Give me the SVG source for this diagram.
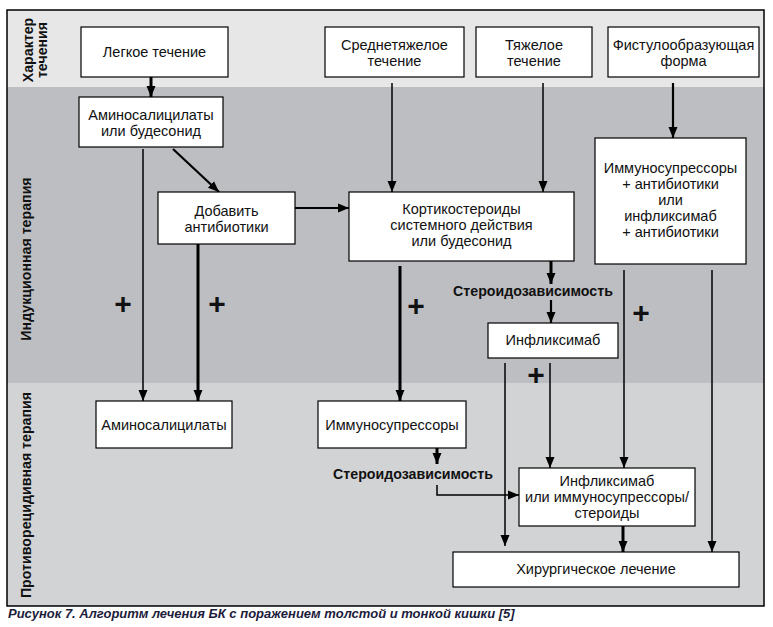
<svg xmlns="http://www.w3.org/2000/svg" width="773" height="627" viewBox="0 0 773 627">
<style>
.box{fill:#fff;stroke:#000;stroke-width:1.2}
.t{font-family:"Liberation Sans",Arial,sans-serif;font-size:14.5px;fill:#111;text-anchor:middle}
.b{font-family:"Liberation Sans",Arial,sans-serif;font-size:14.2px;font-weight:bold;fill:#111;text-anchor:middle}
.l{font-family:"Liberation Sans",Arial,sans-serif;font-size:14.2px;font-weight:bold;fill:#111;text-anchor:middle}
.p{font-family:"Liberation Sans",Arial,sans-serif;font-size:30px;font-weight:bold;fill:#111;text-anchor:middle}
.c{fill:none;stroke:#000}
.w1{stroke-width:1.5}
.w2{stroke-width:2.2}
.w3{stroke-width:3}
</style>
<defs>
<marker id="ah" markerUnits="userSpaceOnUse" markerWidth="12" markerHeight="12" viewBox="0 0 12 12" refX="11" refY="6" orient="auto">
<path d="M0,1.5 L11,6 L0,10.5 Z" fill="#000"/>
</marker>
</defs>
<rect x="0" y="0" width="773" height="627" fill="#fff"/>
<g id="bands">
<rect x="7" y="10" width="757" height="77" fill="#e7e7e8"/>
<rect x="7" y="87" width="757" height="296" fill="#bdbec1"/>
<rect x="7" y="383" width="757" height="223" fill="#d2d3d5"/>
<rect x="7" y="10" width="757" height="596" fill="none" stroke="#000" stroke-width="1.5"/>
</g>
<g id="lane-labels">
<text class="l" transform="translate(33,50) rotate(-90)">Характер</text>
<text class="l" transform="translate(47,50) rotate(-90)">течения</text>
<text class="l" transform="translate(31,259) rotate(-90)">Индукционная терапия</text>
<text class="l" transform="translate(31,495) rotate(-90)">Противорецидивная терапия</text>
</g>
<g id="connectors">
<path class="c w3" d="M151,77 V97" marker-end="url(#ah)"/>
<path class="c w1" d="M392,83 V192" marker-end="url(#ah)"/>
<path class="c w1" d="M543,83 V192" marker-end="url(#ah)"/>
<path class="c w2" d="M673,83 V138" marker-end="url(#ah)"/>
<path class="c w2" d="M173,149 L219,192" marker-end="url(#ah)"/>
<path class="c w1" d="M143,149 V401" marker-end="url(#ah)"/>
<path class="c w3" d="M198,244 V401" marker-end="url(#ah)"/>
<path class="c w2" d="M295,208 H349" marker-end="url(#ah)"/>
<path class="c w3" d="M400,266 V401" marker-end="url(#ah)"/>
<path class="c w3" d="M551,261 V284" marker-end="url(#ah)"/>
<path class="c w2" d="M551,300 V323" marker-end="url(#ah)"/>
<path class="c w1" d="M505,363 V546" marker-end="url(#ah)"/>
<path class="c w1" d="M550,363 V468" marker-end="url(#ah)"/>
<path class="c w1" d="M624,270 V468" marker-end="url(#ah)"/>
<path class="c w1" d="M712,270 V552" marker-end="url(#ah)"/>
<path class="c w3" d="M437,448 V464" marker-end="url(#ah)"/>
<path class="c w1" d="M437,485 V495 H519" marker-end="url(#ah)"/>
<path class="c w3" d="M623,526 V552" marker-end="url(#ah)"/>
</g>
<g id="plus-signs">
<text class="p" x="123" y="314">+</text>
<text class="p" x="217" y="314">+</text>
<text class="p" x="416" y="316">+</text>
<text class="p" x="641" y="323">+</text>
<text class="p" x="536" y="385">+</text>
</g>
<g id="n-legkoe">
<rect class="box" x="81" y="27" width="147" height="50"/>
<text class="t" x="154.5" y="57">Легкое течение</text>
</g>
<g id="n-srednetyazheloe">
<rect class="box" x="325" y="27" width="139" height="50"/>
<text class="t" x="394.5" y="50">Среднетяжелое</text>
<text class="t" x="394.5" y="66">течение</text>
</g>
<g id="n-tyazheloe">
<rect class="box" x="476" y="27" width="116" height="50"/>
<text class="t" x="534" y="50">Тяжелое</text>
<text class="t" x="534" y="66">течение</text>
</g>
<g id="n-fistula">
<rect class="box" x="608" y="27" width="151" height="50"/>
<text class="t" x="683.5" y="50">Фистулообразующая</text>
<text class="t" x="683.5" y="66">форма</text>
</g>
<g id="n-amino-budesonid">
<rect class="box" x="79" y="97" width="144" height="50"/>
<text class="t" x="151" y="120">Аминосалицилаты</text>
<text class="t" x="151" y="136">или будесонид</text>
</g>
<g id="n-dobavit">
<rect class="box" x="158" y="192" width="137" height="52"/>
<text class="t" x="226.5" y="216">Добавить</text>
<text class="t" x="226.5" y="232">антибиотики</text>
</g>
<g id="n-kortiko">
<rect class="box" x="349" y="192" width="225" height="69"/>
<text class="t" x="461.5" y="214">Кортикостероиды</text>
<text class="t" x="461.5" y="230">системного действия</text>
<text class="t" x="461.5" y="246">или будесонид</text>
</g>
<g id="n-immuno-antibiotiki">
<rect class="box" x="595" y="138" width="151" height="126"/>
<text class="t" x="670.5" y="173">Иммуносупрессоры</text>
<text class="t" x="670.5" y="189">+ антибиотики</text>
<text class="t" x="670.5" y="205">или</text>
<text class="t" x="670.5" y="221">инфликсимаб</text>
<text class="t" x="670.5" y="237">+ антибиотики</text>
</g>
<g id="n-steroid-1">
<text class="b" x="533" y="296">Стероидозависимость</text>
</g>
<g id="n-infliksimab">
<rect class="box" x="488" y="323" width="130" height="35"/>
<text class="t" x="553" y="345">Инфликсимаб</text>
</g>
<g id="n-aminosalicilaty">
<rect class="box" x="96" y="401" width="136" height="47"/>
<text class="t" x="164" y="430">Аминосалицилаты</text>
</g>
<g id="n-immunosupressory">
<rect class="box" x="318" y="401" width="148" height="47"/>
<text class="t" x="392" y="430">Иммуносупрессоры</text>
</g>
<g id="n-steroid-2">
<text class="b" x="413" y="479">Стероидозависимость</text>
</g>
<g id="n-infliksimab-ili">
<rect class="box" x="519" y="468" width="176" height="58"/>
<text class="t" x="607" y="486">Инфликсимаб</text>
<text class="t" x="607" y="502">или иммуносупрессоры/</text>
<text class="t" x="607" y="518">стероиды</text>
</g>
<g id="n-hirurgiya">
<rect class="box" x="453" y="552" width="286" height="35"/>
<text class="t" x="596" y="574">Хирургическое лечение</text>
</g>
<g id="caption">
<text x="8" y="618" font-family="Liberation Sans, Arial, sans-serif" font-size="13px" font-weight="bold" font-style="italic" fill="#1c1c3c">Рисунок 7. Алгоритм лечения БК с поражением толстой и тонкой кишки [5]</text>
</g>
</svg>
